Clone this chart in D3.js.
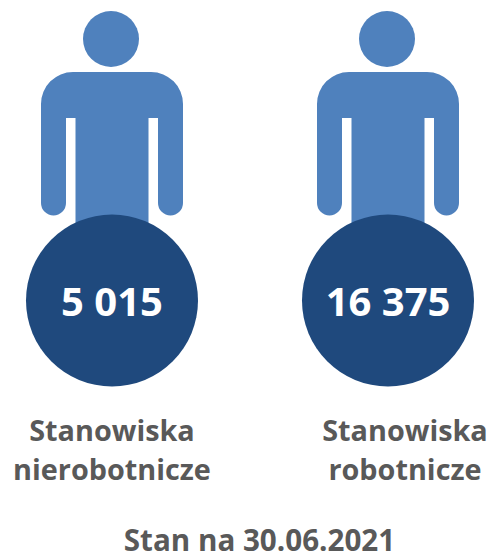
<!DOCTYPE html>
<meta charset="utf-8">
<style>
body { margin: 0; background: #fff; }
text { font-family: "Open Sans", sans-serif; font-weight: 700; }
.value { fill: #fff; font-size: 40px; text-anchor: middle; }
.label { fill: #595959; font-size: 28.8px; text-anchor: middle; }
.note { fill: #595959; font-size: 29.6px; text-anchor: middle; }
</style>
<body>
<script src="https://d3js.org/d3.v7.min.js"></script>
<script>

var categories = [["Stanowiska", "nierobotnicze"], ["Stanowiska", "robotnicze"]];
var values = [5015, 16375];
var valueLabels = ["5 015", "16 375"];
var note = "Stan na 30.06.2021";

var svg = d3.select("body").append("svg")
    .attr("width", 492)
    .attr("height", 554)
    .style("display", "block");

var x = d3.scalePoint()
    .domain(d3.range(values.length))
    .range([112, 388]);

// the labels sit further right than the second figure
var labelX = d3.scalePoint()
    .domain(d3.range(values.length))
    .range([112, 405]);

// person outline, drawn around the figure's centre line
var body = "M-71,104 A32,32 0 0 1 -39,72 L39,72 A32,32 0 0 1 71,104 L71,203 A12.5,12.5 0 0 1 46,203 L46,118 L36.5,118 L36.5,240 L-36.5,240 L-36.5,118 L-46,118 L-46,203 A12.5,12.5 0 0 1 -71,203 Z";

var person = svg.selectAll(".person")
    .data(values)
    .enter().append("g")
    .attr("class", "person")
    .attr("transform", function(d, i) { return "translate(" + x(i) + ",0)"; });

person.append("circle")
    .attr("cx", -1)
    .attr("cy", 39)
    .attr("r", 28)
    .attr("fill", "#4f81bd");

person.append("path")
    .attr("d", body)
    .attr("fill", "#4f81bd");

person.append("circle")
    .attr("cy", 300.5)
    .attr("r", 86)
    .attr("fill", "#1f497d");

person.append("text")
    .attr("class", "value")
    .attr("y", 316)
    .text(function(d, i) { return valueLabels[i]; });

var label = svg.selectAll(".label")
    .data(categories)
    .enter().append("text")
    .attr("class", "label");

label.selectAll("tspan")
    .data(function(d, i) { return d.map(function(t) { return {t: t, col: i}; }); })
    .enter().append("tspan")
    .attr("x", function(d) { return labelX(d.col); })
    .attr("y", function(d, i) { return 441 + i * 38.5; })
    .text(function(d) { return d.t; });

svg.append("text")
    .attr("class", "note")
    .attr("x", 259.5)
    .attr("y", 551)
    .text(note);

</script>
